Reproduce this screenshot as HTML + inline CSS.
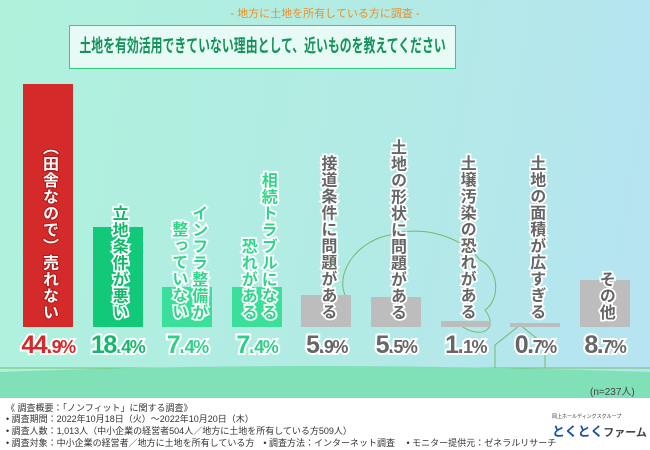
<!DOCTYPE html>
<html><head><meta charset="utf-8"><style>
*{margin:0;padding:0;box-sizing:border-box}
body{width:650px;height:450px;overflow:hidden;position:relative;font-family:"Liberation Sans","Noto Sans CJK JP",sans-serif;background:linear-gradient(100deg,#aef2dc 0%,#b2ebe4 50%,#b6e3f2 100%)}
.abs{position:absolute}
.lbl{position:absolute;writing-mode:vertical-rl;text-orientation:upright;font-weight:bold;font-size:16px;line-height:20px;text-align:end;-webkit-text-stroke:3.5px #fff;paint-order:stroke fill;white-space:pre;letter-spacing:0.5px}
.pct{position:absolute;font-weight:bold;font-size:25px;text-align:center;width:70px;-webkit-text-stroke:4px #fff;paint-order:stroke fill;letter-spacing:-1.5px}
.pct small{font-size:18px}
.foot{position:absolute;left:6px;font-size:9px;color:#333;white-space:nowrap}
</style></head><body>
<div class="abs" style="left:0;width:650px;top:5px;text-align:center;font-size:11px;color:#e8902a">- 地方に土地を所有している方に調査 -</div>
<div class="abs" style="left:69px;top:25px;width:387px;height:44px;background:#e8faf6;border:1.5px solid #2fd07e;"></div>
<div class="abs" style="left:69px;top:25px;width:387px;height:44px;text-align:center;line-height:42px;white-space:nowrap"><span style="display:inline-block;font-size:18px;color:#16935a;font-weight:bold;transform:scaleX(0.66);transform-origin:center;margin:0 -100px">土地を有効活用できていない理由として、近いものを教えてください</span></div>

<svg class="abs" style="left:0;top:0" width="650" height="400">
<path d="M0 368 L650 368" stroke="#6fbf6a" stroke-width="1" fill="none"/>
<path d="M0 372 Q300 360 650 372 L650 400 L0 400 Z" fill="#80e0b8"/>
<path d="M340 325 C325 320 330 300 345 295 C335 270 360 240 390 235 C420 225 460 235 480 260 C500 270 500 300 485 310 C500 330 480 340 460 325" stroke="#79b86a" fill="none" stroke-width="1"/>
<path d="M495 368 L495 345 L520 325 L545 345 L545 368" stroke="#79b86a" fill="none" stroke-width="1"/>
</svg>

<div id="chart"></div>

<div class="abs" style="left:590px;top:383px;font-size:10px;color:#444">(n=237人)</div>
<div class="abs" style="left:0;top:398px;width:650px;height:52px;background:#fff"></div>
<div class="foot" style="top:401px">《 調査概要：「ノンフィット」に関する調査》</div>
<div class="foot" style="top:412px">• 調査期間：2022年10月18日（火）～2022年10月20日（木）</div>
<div class="foot" style="top:424px">• 調査人数：1,013人（中小企業の経営者504人／地方に土地を所有している方509人）</div>
<div class="foot" style="top:436px">• 調査対象：中小企業の経営者／地方に土地を所有している方　• 調査方法：インターネット調査　 • モニター提供元：ゼネラルリサーチ</div>
<div class="abs" style="left:552px;top:413px;font-size:5px;color:#333">岡上ホールディングスグループ</div>
<div class="abs" style="left:552px;top:421px;font-size:13px;font-weight:bold;color:#1a4fb0;white-space:nowrap">とくとく<span style="color:#444;font-size:11px">ファーム</span></div>

<script>
const categories=["（田舎なので）売れない","立地条件が悪い","インフラ整備が整っていない","相続トラブルになる恐れがある","接道条件に問題がある","土地の形状に問題がある","土壌汚染の恐れがある","土地の面積が広すぎる","その他"];
const labels=["（田舎なので）売れない","立地条件が悪い","インフラ整備が\n整っていない","相続トラブルになる\n恐れがある","接道条件に問題がある","土地の形状に問題がある","土壌汚染の恐れがある","土地の面積が広すぎる","その他"];
const values=[44.9,18.4,7.4,7.4,5.9,5.5,1.1,0.7,8.7];
const barColors=["#d42a2a","#12c97a","#3ae09a","#3ae09a","#bdbdbd","#bdbdbd","#bdbdbd","#bdbdbd","#bdbdbd"];
const textColors=["#fff","#10b86a","#2fd68a","#2fd68a","#666","#666","#666","#666","#666"];
const pctColors=["#d42a2a","#14b86c","#2fcf88","#2fcf88","#666","#666","#666","#666","#666"];
const base=327, scale=5.42, x0=23, step=69.6, bw=50;
const yOf=v=>base-v*scale;
const xOf=i=>x0+i*step;
const chart=document.getElementById('chart');
values.forEach((v,i)=>{
  const b=document.createElement('div');
  
  
  b.className='abs';
  b.style.cssText=`left:${xOf(i)}px;top:${yOf(v)}px;width:${bw}px;height:${base-yOf(v)}px;background:${barColors[i]}`;
  chart.appendChild(b);
  const l=document.createElement('div');
  
  
  l.className='lbl';
  l.textContent=labels[i];
  l.style.color=textColors[i];
  if(i===0){l.style.webkitTextStroke='2px #b01818';}
  const cols=labels[i].split('\n').length;
  l.style.left=(xOf(i)+bw/2-cols*10)+'px';
  l.style.bottom=(450-320)+'px';
  chart.appendChild(l);
  const p=document.createElement('div');
  
  
  p.className='pct';
  const s=v.toFixed(1).split('.');
  p.innerHTML=s[0]+'.<small>'+s[1]+'%</small>';
  p.style.color=pctColors[i];
  p.style.left=(xOf(i)+bw/2-35)+'px';
  p.style.top='331px';
  chart.appendChild(p);
});
</script>
</body></html>
